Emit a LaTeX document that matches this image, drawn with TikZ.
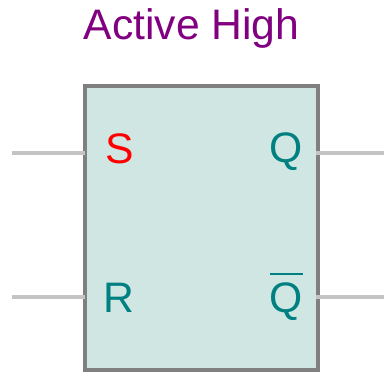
\documentclass[tikz,border=0pt]{standalone}
\usepackage{fontspec}
\setmainfont{Liberation Sans}
\definecolor{boxfill}{HTML}{CFE6E3}
\definecolor{teal2}{HTML}{008080}
\definecolor{wire}{HTML}{C4C4C4}
\definecolor{titlec}{HTML}{800080}
\tikzset{x=0.75pt,y=-0.75pt,
 lab/.style={inner sep=0pt,font=\fontsize{32}{32}\selectfont,text=teal2},
 wireline/.style={draw=wire,line width=3pt}}
\begin{document}
\begin{tikzpicture}
\useasboundingbox (0,0) rectangle (384,371);
\node[inner sep=0pt,anchor=base,font=\fontsize{32}{32}\selectfont,text=titlec] (title) at (191.5,39.5) {Active High};
\node[draw=gray,fill=boxfill,line width=3pt,outer sep=0pt,minimum width=175.1pt,minimum height=213pt,inner sep=0pt,anchor=north west] (box) at (85,85.5) {};
\draw[wireline] (12,152.5) coordinate (s0) -- (85,152.5) coordinate (s1);
\draw[wireline] (12,296.5) coordinate (r0) -- (85,296.5) coordinate (r1);
\draw[wireline] (316,152.5) coordinate (q1) -- (384,152.5) coordinate (q0);
\draw[wireline] (316,296.5) coordinate (n1) -- (384,296.5) coordinate (n0);
\node[lab,anchor=base,text=red] (S) at (119.5,163) {S};
\node[lab,anchor=base] (R) at (118.5,312) {R};
\node[lab,anchor=base] (Q) at (286.5,162) {Q};
\node[lab,anchor=base] (Qb) at (286.5,312) {Q};
\draw[teal2,line width=1.6pt] (270,274) coordinate (b0) -- (303,274) coordinate (b1);
\end{tikzpicture}
\end{document}
